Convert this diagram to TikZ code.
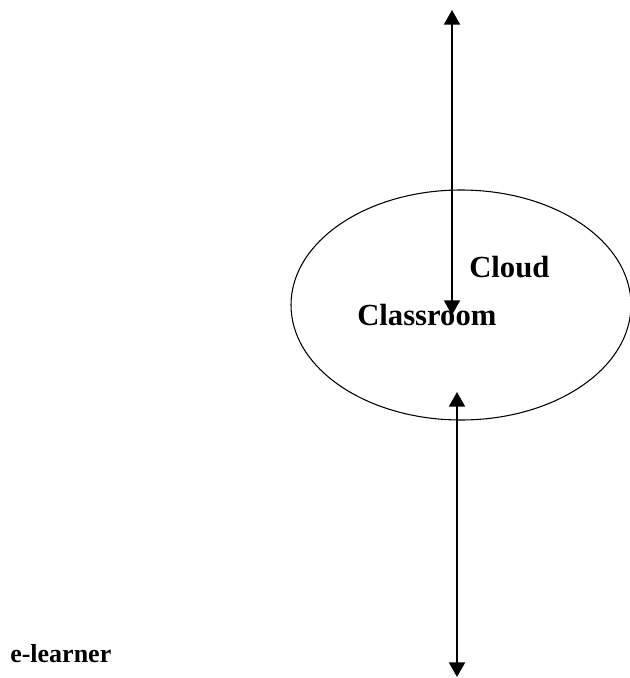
\documentclass[tikz,border=0pt]{standalone}
\usepackage{fontspec}
\setmainfont{Liberation Serif}
\usetikzlibrary{arrows.meta,shapes.geometric}
\begin{document}
\begin{tikzpicture}[x=0.75pt,y=-0.75pt,
  link/.style={line width=1.5pt,{Triangle[width=12pt,length=11pt]}-{Triangle[width=12pt,length=11pt]}},
  label/.style={inner sep=0pt,anchor=base west,font=\bfseries}]
  \useasboundingbox (0,0) rectangle (630,678);
  % the cloud classroom
  \node[draw,ellipse,line width=0.8pt,minimum width=340*0.75pt,minimum height=230*0.75pt,inner sep=0pt] (cloud) at (461,305) {};
  \node[label,font=\bfseries\fontsize{23}{26}\selectfont] (cloudtxt) at (469,277) {Cloud};
  \node[label,font=\bfseries\fontsize{23}{26}\selectfont] (classtxt) at (357,325) {Classroom};
  \node[label,font=\bfseries\fontsize{19.5}{22}\selectfont] (learner) at (10,662) {e-learner};
  % connectors
  \coordinate (topend) at (452,10);
  \coordinate (inend) at (452,315);
  \coordinate (upend) at (457,392);
  \coordinate (lowend) at (457,677);
  \draw[link] (topend) -- (inend);
  \draw[link] (upend) -- (lowend);
\end{tikzpicture}
\end{document}
